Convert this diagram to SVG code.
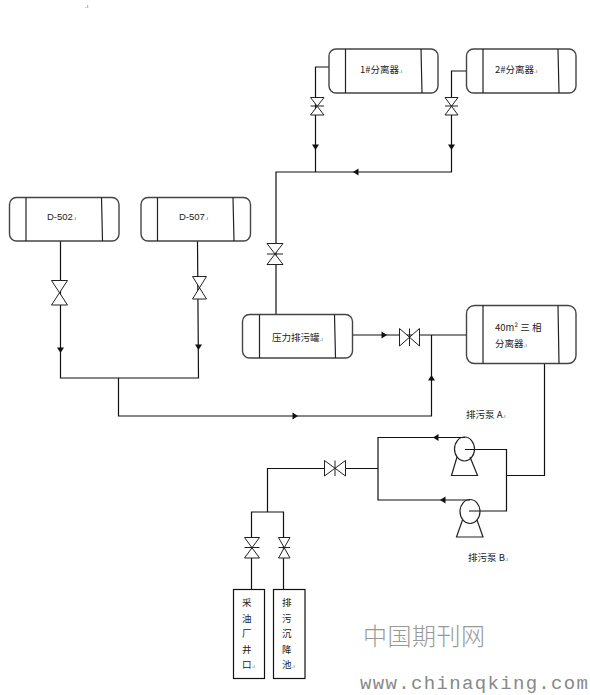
<svg xmlns="http://www.w3.org/2000/svg" xmlns:xlink="http://www.w3.org/1999/xlink" width="590" height="695" viewBox="0 0 590 695">
<style>
.bg{fill:#fff}
.v{fill:#fff;stroke:#444;stroke-width:1.4}
.d{fill:none;stroke:#222;stroke-width:1.2}
.p{fill:none;stroke:#111;stroke-width:1.2}
.vl{fill:#fff;stroke:#222;stroke-width:1}
.a{fill:#111}
.b{fill:#fff;stroke:#111;stroke-width:1.2}
text{font-family:"Noto Sans CJK SC","Liberation Sans",sans-serif;font-size:9.5px;fill:#222}
.en{font-family:"Liberation Sans","Noto Sans CJK SC",sans-serif}
.m{font-size:6px;fill:#666}
.w1{font-size:24px;fill:#999;font-weight:300}
.w2{font-family:"Liberation Mono",monospace;font-size:19px;fill:#888}
</style>
<defs>
<path id="ah" class="a" d="M-5.500-3.500L0 0L-5.500 3.500Z"/>
</defs>
<rect class="bg" width="590" height="695"/>
<text x="85" y="8" class="m">.ı</text>
<g id="connectors">
<path class="p" d="M329 67H315.500V172M466 71H451.500V172H276V314"/>
<path class="p" d="M60.500 241V378H198.500L197.500 241M118.500 378V416H431.500V335"/>
<path class="p" d="M353 335H466M544.500 363V475.500H506.500M465 449.500H506.500V511H469"/>
<path class="p" d="M465 437.500H378V500H470M378 468.500H267.500V512M251.500 589V512H283.500V589"/>
<use xlink:href="#ah" transform="translate(315.500,150) rotate(90)"/>
<use xlink:href="#ah" transform="translate(451.500,150) rotate(90)"/>
<use xlink:href="#ah" transform="translate(353,172) rotate(180)"/>
<use xlink:href="#ah" transform="translate(60.500,353) rotate(90)"/>
<use xlink:href="#ah" transform="translate(198.500,350) rotate(90)"/>
<use xlink:href="#ah" transform="translate(298,416)"/>
<use xlink:href="#ah" transform="translate(431.500,375) rotate(-90)"/>
<use xlink:href="#ah" transform="translate(387,335)"/>
<use xlink:href="#ah" transform="translate(433,437.500) rotate(180)"/>
<use xlink:href="#ah" transform="translate(440,500) rotate(180)"/>
</g>
<g id="sep1"><rect class="v" x="329" y="49" width="109" height="44" rx="7"/><path class="d" d="M345.500 49V93M421 49L422 93"/><text x="360" y="73">1#分离器<tspan class="m">.ı</tspan></text></g>
<g id="sep2"><rect class="v" x="466.500" y="49" width="109.500" height="44" rx="7"/><path class="d" d="M483 49V93M558 49L559 93"/><text x="495" y="73">2#分离器<tspan class="m">.ı</tspan></text></g>
<g id="d502"><rect class="v" x="9.500" y="197.500" width="109.500" height="43.500" rx="7"/><path class="d" d="M26 197.500V241M101.500 197.500L102.500 241"/><text x="47" y="220" class="en">D-502<tspan class="m">.ı</tspan></text></g>
<g id="d507"><rect class="v" x="141" y="197.500" width="109.500" height="43.500" rx="7"/><path class="d" d="M157.500 197.500V241M233 197.500L234 241"/><text x="179" y="220" class="en">D-507<tspan class="m">.ı</tspan></text></g>
<g id="tank"><rect class="v" x="242.500" y="314.500" width="110" height="43.500" rx="7"/><path class="d" d="M259.500 314.500V358M334.500 314.500L335.500 358"/><text x="272" y="341">压力排污罐<tspan class="m">.ı</tspan></text></g>
<g id="sep40"><rect class="v" x="466.500" y="305.500" width="109.500" height="58" rx="8"/><path class="d" d="M483 305.500V363.500M558 305.500L559 363.500"/><text x="495" y="331">40m² 三 相</text><text x="495" y="347">分离器<tspan class="m">.ı</tspan></text></g>
<g id="valve1"><path class="vl" d="M310.500 97.500H324L310.500 115H324Z"/><path class="vl" d="M310.500 106H324"/></g>
<g id="valve2"><path class="vl" d="M445 97.500H458L445 115H458Z"/><path class="vl" d="M445 106H458"/></g>
<g id="valve3"><path class="vl" d="M51.500 280.500H67.500L51.500 305H67.500Z"/></g>
<g id="valve4"><path class="vl" d="M192.500 276.500H206.500L192.500 299H206.500Z"/></g>
<g id="valve5"><path class="vl" d="M267 243.500H283L267 264.500H283Z"/><path class="vl" d="M267 254H283"/></g>
<g id="valve6"><path class="vl" d="M399.500 328.500V346L419.500 328.500V346Z"/><path class="vl" d="M409.500 328.500V346"/></g>
<g id="valve7"><path class="vl" d="M324.500 460.500V476L345.500 460.500V476Z"/><path class="vl" d="M335 460.500V476"/></g>
<g id="valve8"><path class="vl" d="M244.500 537.500H259.500L244.500 558H259.500Z"/><path class="vl" d="M244.500 547.500H259.500"/></g>
<g id="valve9"><path class="vl" d="M278.500 537.500H290L278.500 558H290Z"/><path class="vl" d="M278.500 547.500H290"/></g>
<g id="pumpA"><ellipse class="d" cx="464.500" cy="449" rx="10" ry="12"/><path class="d" d="M457 457L451.500 475.500H477.500L470 457"/></g>
<g id="pumpB"><ellipse class="d" cx="470" cy="511.500" rx="10" ry="12"/><path class="d" d="M462.500 520L456.500 537H483L477 520"/></g>
<text x="466" y="418">排污泵 A<tspan class="m">.ı</tspan></text>
<text x="468" y="561">排污泵 B<tspan class="m">.ı</tspan></text>
<g id="box1"><rect class="b" x="233.500" y="589.500" width="31" height="89"/>
<text x="242" y="606">采</text><text x="242" y="622">油</text><text x="242" y="637">厂</text><text x="242" y="653">井</text><text x="242" y="668">口<tspan class="m">.ı</tspan></text></g>
<g id="box2"><rect class="b" x="273.500" y="589.500" width="31.500" height="89"/>
<text x="282" y="606">排</text><text x="282" y="622">污</text><text x="282" y="637">沉</text><text x="282" y="653">降</text><text x="282" y="668">池<tspan class="m">.ı</tspan></text></g>
<text x="363" y="645" class="w1" textLength="122">中国期刊网</text>
<text x="360" y="689" class="w2" textLength="228">www.chinaqking.com</text>
</svg>
